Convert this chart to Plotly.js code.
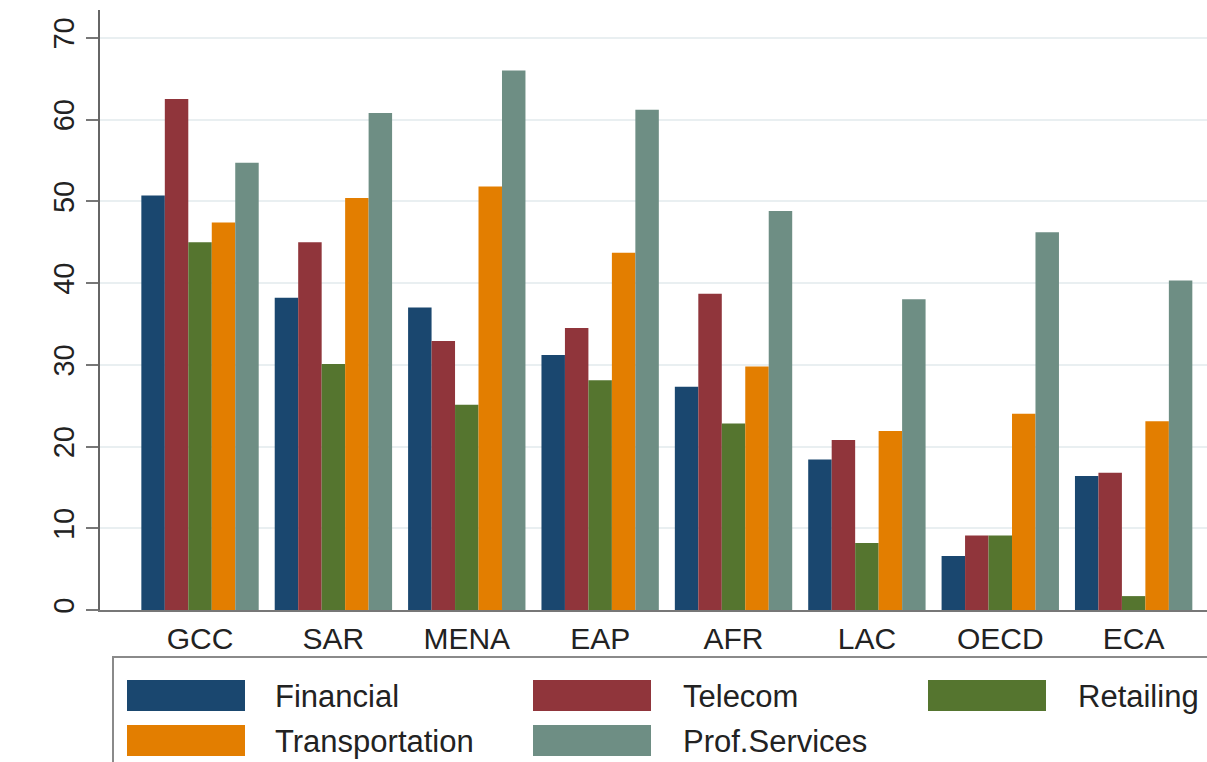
<!DOCTYPE html>
<html>
<head>
<meta charset="utf-8">
<script src="https://cdn.plot.ly/plotly-3.0.1.min.js"></script>
<style>
  html, body { margin: 0; padding: 0; background: #fff; }
  #chart { width: 1207px; height: 762px; }
</style>
</head>
<body>
<div id="chart"></div>
<script>
// ---- Data ----
const categories = ['GCC', 'SAR', 'MENA', 'EAP', 'AFR', 'LAC', 'OECD', 'ECA'];
const financial      = [50.7, 38.2, 37.0, 31.2, 27.3, 18.4, 6.6, 16.4];
const telecom        = [62.5, 45.0, 32.9, 34.5, 38.7, 20.8, 9.1, 16.8];
const retailing      = [45.0, 30.1, 25.1, 28.1, 22.8, 8.2, 9.1, 1.7];
const transportation = [47.4, 50.4, 51.8, 43.7, 29.8, 21.9, 24.0, 23.1];
const profServices   = [54.7, 60.8, 66.0, 61.2, 48.8, 38.0, 46.2, 40.3];
const seriesNames = ['Financial', 'Telecom', 'Retailing', 'Transportation', 'Prof.Services'];
const yTickValues = [0, 10, 20, 30, 40, 50, 60, 70];

// ---- Styling ----
const seriesValues = [financial, telecom, retailing, transportation, profServices];
const colors = ['#1a476f', '#90353b', '#55752f', '#e37e00', '#6e8e84'];
const FONT = 'Liberation Sans, Arial, sans-serif';

const W = 1207, H = 762;
const M = { l: 100, r: 0, t: 10, b: 152 };
const plotW = W - M.l - M.r, plotH = H - M.t - M.b;
const px2x = p => (p - M.l) / plotW;
const px2y = p => (H - M.b - p) / plotH;

const traces = seriesNames.map((name, i) => ({
  type: 'bar',
  name: name,
  x: categories,
  y: seriesValues[i],
  marker: { color: colors[i], line: { width: 0 } },
  showlegend: false,
  hoverinfo: 'x+y+name'
}));

// Custom legend (large swatches like the reference)
const legendSlots = [
  { sx: 127, tx: 275, row: 0 },
  { sx: 533, tx: 683, row: 0 },
  { sx: 928, tx: 1078, row: 0 },
  { sx: 127, tx: 275, row: 1 },
  { sx: 533, tx: 683, row: 1 }
];
const rowTop = [680, 725];
const swW = 118, swH = 31;

const shapes = [{
  type: 'rect', xref: 'paper', yref: 'paper',
  x0: px2x(113), x1: px2x(1230), y0: px2y(800), y1: px2y(657),
  line: { color: '#8a8a8a', width: 2 }, fillcolor: 'rgba(0,0,0,0)', layer: 'above'
}];
const annotations = [];
seriesNames.forEach((name, i) => {
  const s = legendSlots[i];
  const top = rowTop[s.row];
  shapes.push({
    type: 'rect', xref: 'paper', yref: 'paper',
    x0: px2x(s.sx), x1: px2x(s.sx + swW), y0: px2y(top + swH), y1: px2y(top),
    line: { width: 0 }, fillcolor: colors[i], layer: 'above'
  });
  annotations.push({
    xref: 'paper', yref: 'paper', x: px2x(s.tx - 2), y: px2y(top + swH / 2 + 1),
    xanchor: 'left', yanchor: 'middle', showarrow: false,
    text: name, font: { family: FONT, size: 31, color: '#222' }
  });
});

const layout = {
  width: W, height: H,
  margin: M,
  paper_bgcolor: '#ffffff',
  plot_bgcolor: '#ffffff',
  barmode: 'group',
  bargap: 0.12,
  bargroupgap: 0,
  xaxis: {
    type: 'category',
    range: [-0.75, 7.55],
    showline: true, linecolor: '#777', linewidth: 2,
    ticks: 'outside', ticklen: 1, tickcolor: 'rgba(0,0,0,0)',
    tickfont: { family: FONT, size: 30, color: '#222' },
    showgrid: false, zeroline: false, fixedrange: true
  },
  yaxis: {
    range: [0, 73.4],
    tickvals: yTickValues,
    ticktext: yTickValues.map(String),
    tickangle: -90,
    ticks: 'outside', ticklen: 12, tickwidth: 2, tickcolor: '#777',
    tickfont: { family: FONT, size: 29, color: '#222' },
    showline: true, linecolor: '#666', linewidth: 2,
    showgrid: true, gridcolor: '#e9eff1', gridwidth: 2,
    zeroline: false, fixedrange: true
  },
  shapes: shapes,
  annotations: annotations,
  showlegend: false
};

Plotly.newPlot('chart', traces, layout, { displayModeBar: false, staticPlot: true });
</script>
</body>
</html>
